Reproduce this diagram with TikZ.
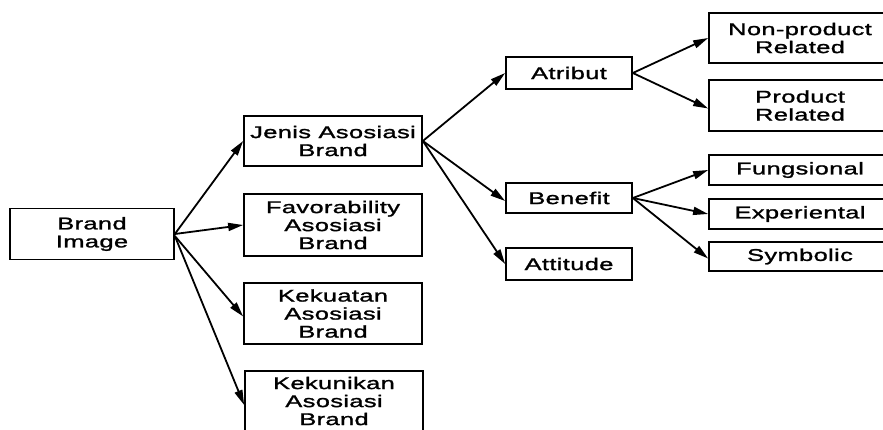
\documentclass[tikz,border=0pt]{standalone}
\usepackage{fontspec}
\setmainfont{Liberation Sans}[FakeStretch=1.5, FakeBold=1.4, LetterSpace=2]
\usetikzlibrary{arrows.meta}
\begin{document}
\begin{tikzpicture}[x=1pt,y=-1pt,
  box/.style={draw=black,line width=1.7pt,inner sep=0pt,align=center,
    font=\fontsize{17}{18}\selectfont},
  conn/.style={line width=1.8pt,-{Triangle[length=15pt,width=8pt]}}]
\useasboundingbox (0,0) rectangle (883,430);
\begin{scope}
\clip (0,0) rectangle (883,430);
\node[box,minimum width=164pt,minimum height=51pt] (bi) at (92,234) {Brand\\Image};
\node[box,minimum width=178pt,minimum height=50pt] (jenis) at (333,141) {Jenis Asosiasi\\Brand};
\node[box,minimum width=178pt,minimum height=62pt] (fav) at (333,225) {Favorability\\Asosiasi\\Brand};
\node[box,minimum width=178pt,minimum height=61pt] (kek) at (333,313.5) {Kekuatan\\Asosiasi\\Brand};
\node[box,minimum width=178pt,minimum height=60pt] (kun) at (334,401) {Kekunikan\\Asosiasi\\Brand};
\node[box,minimum width=126pt,minimum height=32pt] (atr) at (569,73) {Atribut};
\node[box,minimum width=126pt,minimum height=30pt] (ben) at (569,198) {Benefit};
\node[box,minimum width=126pt,minimum height=32pt] (att) at (569,264) {Attitude};
\node[box,minimum width=182pt,minimum height=50pt] (np) at (800,38) {Non-product\\Related};
\node[box,minimum width=182pt,minimum height=51pt] (pr) at (800,105.5) {Product\\Related};
\node[box,minimum width=182pt,minimum height=30pt] (fu) at (800,170) {Fungsional};
\node[box,minimum width=182pt,minimum height=30pt] (ex) at (800,214) {Experiental};
\node[box,minimum width=182pt,minimum height=29pt] (sy) at (800,256.5) {Symbolic};
\end{scope}
\draw[conn] (bi.east) -- (jenis.west);
\draw[conn] (bi.east) -- (fav.west);
\draw[conn] ([yshift=-2pt]bi.east) -- ([yshift=-3pt]kek.west);
\draw[conn] ([yshift=-2pt]bi.east) -- ([yshift=-4pt]kun.west);
\draw[conn] (jenis.east) -- (atr.west);
\draw[conn] (jenis.east) -- ([yshift=-3pt]ben.west);
\draw[conn] (jenis.east) -- (att.west);
\draw[conn] (atr.east) -- (np.west);
\draw[conn] (atr.east) -- ([yshift=-3pt]pr.west);
\draw[conn] (ben.east) -- (fu.west);
\draw[conn] (ben.east) -- (ex.west);
\draw[conn] (ben.east) -- ([yshift=-2pt]sy.west);
\end{tikzpicture}
\end{document}
